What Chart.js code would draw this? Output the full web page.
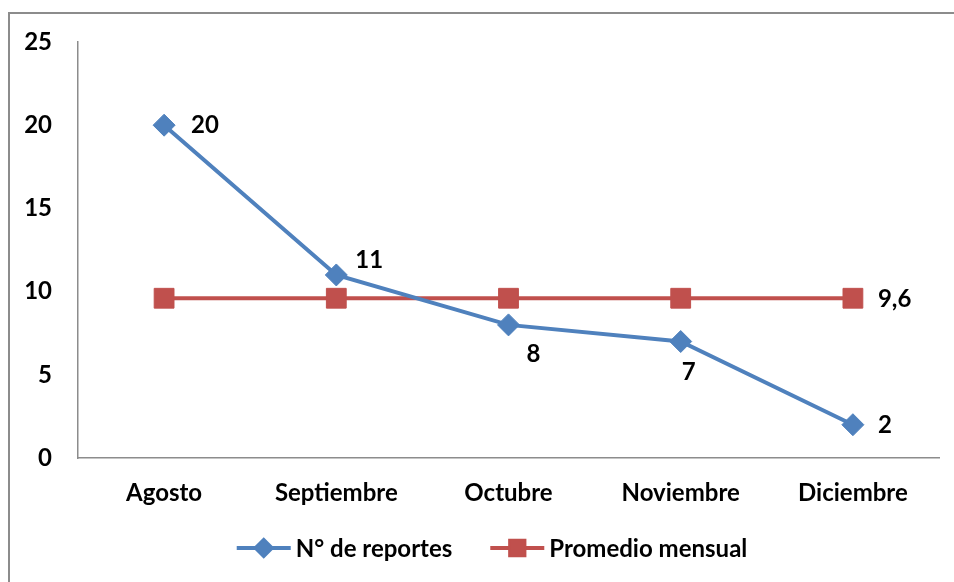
<!DOCTYPE html>
<html>
<head>
<meta charset="utf-8">
<script src="https://cdn.jsdelivr.net/npm/chart.js@4/dist/chart.umd.min.js"></script>
<style>
  html, body { margin: 0; padding: 0; background: #fff; }
  #wrap { width: 954px; height: 582px; position: relative; }
</style>
</head>
<body>
<div id="wrap"><canvas id="lineChart" width="954" height="582"></canvas></div>
<script>
// Datos del gráfico
const meses = ['Agosto', 'Septiembre', 'Octubre', 'Noviembre', 'Diciembre'];
const reportes = [20, 11, 8, 7, 2];
const promedio = [9.6, 9.6, 9.6, 9.6, 9.6];
const yTicks = [0, 5, 10, 15, 20, 25];

const FONT = 'Lato, "Open Sans", sans-serif';
const AZUL = '#4F81BD';
const ROJO = '#C0504D';

// Etiquetas de datos (desplazamiento del texto respecto al punto)
const etiquetasPlugin = {
  id: 'etiquetas',
  afterDatasetsDraw(chart) {
    const ctx = chart.ctx;
    const conf = [
      { ds: 0, offs: [[27, 0], [19, -15], [18, 29], [1, 31], [25, 1]] },
      { ds: 1, offs: [null, null, null, null, [25, 1]], fmt: v => v.toString().replace('.', ',') }
    ];
    ctx.save();
    ctx.font = 'bold 24px ' + FONT;
    ctx.fillStyle = '#000';
    ctx.textAlign = 'left';
    ctx.textBaseline = 'middle';
    conf.forEach(c => {
      const meta = chart.getDatasetMeta(c.ds);
      const vals = chart.data.datasets[c.ds].data;
      meta.data.forEach((pt, i) => {
        const o = c.offs[i];
        if (!o) return;
        const txt = c.fmt ? c.fmt(vals[i]) : String(vals[i]);
        ctx.fillText(txt, pt.x + o[0], pt.y + o[1]);
      });
    });
    ctx.restore();
  }
};

// Marco y leyenda estilo Excel
const marcoLeyendaPlugin = {
  id: 'marcoLeyenda',
  beforeDraw(chart) {
    const ctx = chart.ctx;
    ctx.save();
    ctx.strokeStyle = '#8c8c8c';
    ctx.lineWidth = 2;
    ctx.beginPath();
    ctx.moveTo(9, chart.height);
    ctx.lineTo(9, 13);
    ctx.lineTo(chart.width, 13);
    ctx.stroke();
    ctx.restore();
  },
  afterDraw(chart) {
    const ctx = chart.ctx;
    const y = 548;
    ctx.save();
    ctx.font = 'bold 24px ' + FONT;
    ctx.textBaseline = 'middle';
    const items = chart.data.datasets.map(ds => ({
      text: ds.label, color: ds.borderColor, style: ds.pointStyle, r: ds.pointRadius
    }));
    const symW = 54, gapTxt = 5, gapItem = 38;
    let total = 0;
    items.forEach((it, i) => {
      it.w = ctx.measureText(it.text).width;
      total += symW + gapTxt + it.w + (i < items.length - 1 ? gapItem : 0);
    });
    let x = 492 - total / 2;
    items.forEach(it => {
      ctx.strokeStyle = it.color;
      ctx.lineWidth = 4;
      ctx.beginPath();
      ctx.moveTo(x, y);
      ctx.lineTo(x + symW, y);
      ctx.stroke();
      Chart.helpers.drawPoint(ctx, {
        pointStyle: it.style, rotation: 0, radius: it.r * 0.72, borderWidth: 1
      }, x + symW / 2, y);
      ctx.fillStyle = it.color;
      ctx.fill();
      ctx.fillStyle = '#000';
      ctx.fillText(it.text, x + symW + gapTxt, y + 1);
      x += symW + gapTxt + it.w + gapItem;
    });
    ctx.restore();
  }
};

const ctx = document.getElementById('lineChart').getContext('2d');
const chart = new Chart(ctx, {
  type: 'line',
  data: {
    labels: meses,
    datasets: [{
      label: 'N° de reportes',
      data: reportes,
      borderColor: AZUL,
      backgroundColor: AZUL,
      borderWidth: 4,
      pointStyle: 'rectRot',
      pointRadius: 11,
      pointBorderWidth: 1,
      pointBorderColor: AZUL,
      pointBackgroundColor: AZUL,
      tension: 0
    }, {
      label: 'Promedio mensual',
      data: promedio,
      borderColor: ROJO,
      backgroundColor: ROJO,
      borderWidth: 4,
      pointStyle: 'rect',
      pointRadius: 14,
      pointBorderWidth: 1,
      pointBorderColor: ROJO,
      pointBackgroundColor: ROJO,
      tension: 0
    }]
  },
  options: {
    responsive: false,
    animation: false,
    layout: { padding: { left: 0, right: 14, top: 42, bottom: 0 } },
    plugins: {
      legend: { display: false },
      tooltip: { enabled: false }
    },
    scales: {
      x: {
        offset: true,
        grid: { display: false, drawTicks: false },
        border: { display: true, color: '#8c8c8c', width: 1.5 },
        ticks: { color: '#000', padding: 21, font: { family: FONT, size: 24, weight: 'bold' } },
        afterFit: s => { s.height = 124; }
      },
      y: {
        min: 0,
        max: 25,
        afterBuildTicks: s => { s.ticks = yTicks.map(v => ({ value: v })); },
        grid: { display: false, drawTicks: false },
        border: { display: true, color: '#8c8c8c', width: 1.5 },
        ticks: { color: '#000', padding: 26, font: { family: FONT, size: 24, weight: 'bold' } },
        afterFit: s => { s.width = 78; }
      }
    }
  },
  plugins: [etiquetasPlugin, marcoLeyendaPlugin]
});
</script>
</body>
</html>
